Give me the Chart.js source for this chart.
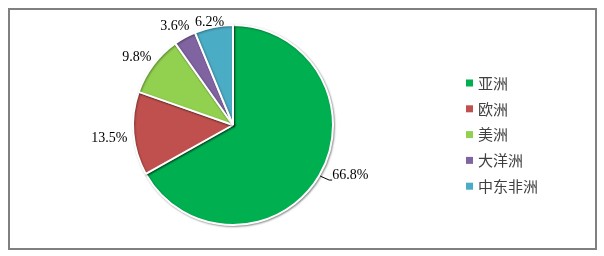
<!DOCTYPE html>
<html>
<head>
<meta charset="utf-8">
<script src="https://cdn.jsdelivr.net/npm/chart.js@4"></script>
<style>
  html, body { margin: 0; padding: 0; background: #fff; }
  #wrap { width: 604px; height: 256px; }
</style>
</head>
<body>
<div id="wrap"><canvas id="pie" width="604" height="256"></canvas></div>
<script>
// Chart data
const regions = ['亚洲', '欧洲', '美洲', '大洋洲', '中东非洲'];
const shares = [66.8, 13.5, 9.8, 3.6, 6.2];
const pctLabels = ['66.8%', '13.5%', '9.8%', '3.6%', '6.2%'];
const colors = ['#00B050', '#C0504D', '#92D050', '#8064A2', '#4BACC6'];
const withLeader = [true, false, false, false, false];

// frame around the whole chart
const framePlugin = {
    id: 'frame',
    beforeDraw(chart) {
        const ctx = chart.ctx;
        ctx.save();
        ctx.fillStyle = '#fff';
        ctx.fillRect(0, 0, chart.width, chart.height);
        ctx.strokeStyle = '#808080';
        ctx.lineWidth = 2;
        ctx.strokeRect(9, 9, 587, 240);
        ctx.restore();
    }
};

// soft shadow on the slices
const shadowPlugin = {
    id: 'shadow',
    beforeDatasetsDraw(chart) {
        const ctx = chart.ctx;
        ctx.save();
        ctx.shadowColor = 'rgba(0,0,0,0.35)';
        ctx.shadowBlur = 2;
        ctx.shadowOffsetX = 1;
        ctx.shadowOffsetY = 1;
    },
    afterDatasetsDraw(chart) {
        chart.ctx.restore();
    }
};

// percent labels outside the slices
const labelPlugin = {
    id: 'outLabels',
    afterDatasetsDraw(chart) {
        const ctx = chart.ctx;
        const arcs = chart.getDatasetMeta(0).data;
        ctx.save();
        ctx.font = '14px "Liberation Serif", "Times New Roman", serif';
        ctx.fillStyle = '#000';
        arcs.forEach((arc, i) => {
            const p = arc.getProps(['x', 'y', 'startAngle', 'endAngle', 'outerRadius'], true);
            const mid = (p.startAngle + p.endAngle) / 2;
            const cos = Math.cos(mid), sin = Math.sin(mid);
            const text = pctLabels[i];
            const w = ctx.measureText(text).width;
            const h = 14;
            if (withLeader[i]) {
                const x0 = p.x + cos * (p.outerRadius + 1);
                const y0 = p.y + sin * (p.outerRadius + 1);
                const x1 = x0 + 9, y1 = y0 + 4;
                ctx.strokeStyle = '#000';
                ctx.lineWidth = 1;
                ctx.beginPath();
                ctx.moveTo(x0, y0);
                ctx.lineTo(x1, y1);
                ctx.lineTo(x1 + 3, y1);
                ctx.stroke();
                ctx.textAlign = 'left';
                ctx.textBaseline = 'middle';
                ctx.fillText(text, x1 + 3, y1 - 5);
            } else {
                const ax = p.x + cos * (p.outerRadius + 6);
                const ay = p.y + sin * (p.outerRadius + 6);
                const cx = ax + cos * w / 2;
                const cy = Math.max(ay + sin * h / 2 + (cos < -0.9 ? 4 : 0), 22);
                ctx.textAlign = 'center';
                ctx.textBaseline = 'middle';
                ctx.fillText(text, cx, cy);
            }
        });
        ctx.restore();
    }
};

// legend on the right
const legendPlugin = {
    id: 'sideLegend',
    afterDraw(chart) {
        const ctx = chart.ctx;
        ctx.save();
        ctx.font = '15px "Noto Sans CJK SC", sans-serif';
        ctx.textBaseline = 'middle';
        ctx.textAlign = 'left';
        regions.forEach((name, i) => {
            const y = 83 + i * 25.8;
            ctx.fillStyle = colors[i];
            ctx.fillRect(466, y - 3.5, 7, 7);
            ctx.fillStyle = '#404040';
            ctx.fillText(name, 478, y);
        });
        ctx.restore();
    }
};

new Chart(document.getElementById('pie'), {
    type: 'pie',
    data: {
        labels: regions,
        datasets: [{
            data: shares,
            backgroundColor: colors,
            borderColor: '#fff',
            borderWidth: 2,
            borderAlign: 'center'
        }]
    },
    options: {
        responsive: false,
        animation: false,
        layout: {
            padding: { left: 132, right: 270, top: 24, bottom: 30 }
        },
        plugins: {
            legend: { display: false },
            tooltip: { enabled: false }
        }
    },
    plugins: [framePlugin, shadowPlugin, labelPlugin, legendPlugin]
});
</script>
</body>
</html>
